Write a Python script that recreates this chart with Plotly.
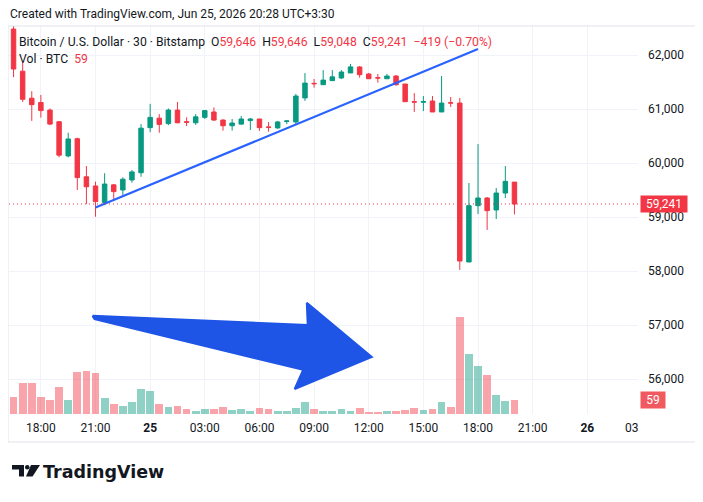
import pandas as pd
import plotly.graph_objects as go

# --- Data (BTCUSD 30m, Bitstamp) ---
START = "2026-06-24 16:30"
opens = [62480, 61700, 61200, 61120, 60980, 60765, 60130, 60450, 59745, 59575,
         59270, 59595, 59500, 59685, 59820, 60655, 60830, 60730, 60980, 60765,
         60745, 60845, 60945, 60795, 60690, 60720, 60785, 60815, 60668, 60650,
         60770, 60760, 61205, 61475, 61450, 61525, 61575, 61668, 61778, 61648,
         61580, 61560, 61610, 61463, 61135, 61125, 61148, 60945, 61116, 61110,
         58167, 59210, 59352, 59130, 59444, 59646]
highs = [62560, 61860, 61330, 61260, 61010, 60765, 60560, 60470, 59945, 59655,
         59810, 59610, 59735, 59870, 60720, 61095, 60905, 61010, 61130, 60845,
         60905, 60980, 61030, 60810, 60815, 60870, 60835, 60815, 60760, 60780,
         60795, 61280, 61665, 61555, 61720, 61720, 61720, 61835, 61795, 61668,
         61648, 61648, 61630, 61463, 61295, 61240, 61240, 61610, 61222, 61205,
         59630, 60350, 59370, 59537, 59944, 59646]
lows = [61590, 61130, 60780, 60840, 60700, 60105, 60105, 59500, 59240, 59005,
        59220, 59295, 59405, 59635, 59745, 60570, 60560, 60700, 60735, 60685,
        60705, 60815, 60780, 60600, 60600, 60705, 60610, 60595, 60580, 60630,
        60720, 60720, 61150, 61395, 61450, 61525, 61555, 61668, 61580, 61560,
        61488, 61560, 61430, 61135, 60945, 60962, 60945, 60945, 61037, 58020,
        58167, 59056, 58760, 58963, 59352, 59048]
closes = [61740, 61180, 61080, 60970, 60720, 60145, 60445, 59730, 59560, 59285,
          59610, 59470, 59700, 59835, 60645, 60845, 60715, 60980, 60745, 60755,
          60855, 60970, 60795, 60690, 60740, 60815, 60815, 60655, 60660, 60760,
          60778, 61240, 61480, 61468, 61535, 61595, 61685, 61780, 61635, 61560,
          61573, 61610, 61450, 61135, 61128, 61137, 60945, 61110, 61110, 58185,
          59210, 59352, 59117, 59444, 59660, 59241]
volumes = [71, 129, 129, 71, 59, 113, 59, 174, 178, 170,
           67, 41, 33, 49, 103, 96, 41, 29, 33, 21,
           12, 21, 21, 29, 16, 21, 12, 25, 21, 12,
           12, 25, 49, 21, 12, 12, 21, 12, 25, 8,
           8, 12, 12, 16, 25, 16, 21, 49, 29, 400,
           247, 198, 161, 78, 55, 59]

price_ticks = [56000, 57000, 58000, 59000, 60000, 61000, 62000]
time_ticks = ["2026-06-24 18:00", "2026-06-24 21:00", "2026-06-25 00:00", "2026-06-25 03:00",
              "2026-06-25 06:00", "2026-06-25 09:00", "2026-06-25 12:00", "2026-06-25 15:00",
              "2026-06-25 18:00", "2026-06-25 21:00", "2026-06-26 00:00"]
time_labels = ["18:00", "21:00", "<b>25</b>", "03:00", "06:00", "09:00", "12:00", "15:00",
               "18:00", "21:00", "<b>26</b>"]

# drawings on the chart
trend_x = ["2026-06-24 21:00", "2026-06-25 18:00"]
trend_y = [59175, 62110]
arrow_x = ["2026-06-24 20:50", "2026-06-25 08:39", "2026-06-25 08:36", "2026-06-25 12:10",
           "2026-06-25 07:56", "2026-06-25 08:24", "2026-06-24 20:57", "2026-06-24 20:50"]
arrow_y = [57170, 57000, 57410, 56410, 55815, 56170, 57110, 57170]

last_price = 59241
last_vol = 59

UP, DOWN = "#089981", "#f23645"
TXT = "#131722"
GRID = "#f0f3fa"
FONT = "Roboto"

times = pd.date_range(START, periods=len(opens), freq="30min")
vol_colors = ["rgba(8,153,129,0.45)" if c >= o else "rgba(242,54,69,0.45)"
              for o, c in zip(opens, closes)]
change = closes[-1] - closes[-2]
change_pct = change / closes[-2] * 100

# the page body has an 8px margin, so the figure is drawn 8px in and smaller
OFF = 8
W, H = 703 - OFF, 502 - OFF
L, R, T, B = 9 - OFF, 65, 26 - OFF, 88
PW, PH = W - L - R, H - T - B


# page pixel -> paper coords
def px(x):
    return (x - OFF - L) / PW


def py(y):
    return (H - B - (y - OFF)) / PH


fig = go.Figure()

fig.add_bar(x=times, y=volumes, marker=dict(color=vol_colors, line_width=0),
            width=30 * 60 * 1000 * 0.85, yaxis="y2", hoverinfo="skip")

fig.add_candlestick(x=times, open=opens, high=highs, low=lows, close=closes,
                    increasing=dict(line=dict(color=UP, width=1), fillcolor=UP),
                    decreasing=dict(line=dict(color=DOWN, width=1), fillcolor=DOWN),
                    whiskerwidth=0)

fig.add_scatter(x=trend_x, y=trend_y, mode="lines", line=dict(color="#2962ff", width=2.2),
                hoverinfo="skip")
fig.add_scatter(x=arrow_x, y=arrow_y, mode="lines", fill="toself", fillcolor="#1f55e6",
                line=dict(color="#1f55e6", width=2), hoverinfo="skip")

# --- Pane frame, price line, logo ---
shapes = [
    dict(type="rect", xref="paper", yref="paper", x0=px(8), x1=px(697), y0=py(442), y1=py(26),
         line=dict(color="#e0e3eb", width=1), layer="above"),
    dict(type="line", xref="paper", yref="y", x0=0, x1=1, y0=last_price, y1=last_price,
         line=dict(color=DOWN, width=1, dash="1px,3px")),
    # TradingView mark
    dict(type="rect", xref="paper", yref="paper", x0=px(12), x1=px(24), y0=py(469.5), y1=py(465),
         fillcolor=TXT, line_width=0),
    dict(type="rect", xref="paper", yref="paper", x0=px(19), x1=px(24), y0=py(476.5), y1=py(465),
         fillcolor=TXT, line_width=0),
    dict(type="circle", xref="paper", yref="paper", x0=px(25), x1=px(29.5), y0=py(469.5), y1=py(465),
         fillcolor=TXT, line_width=0),
    dict(type="path", xref="paper", yref="paper",
         path=f"M {px(31)},{py(465)} L {px(40)},{py(465)} L {px(32.5)},{py(476.5)} "
              f"L {px(26)},{py(476.5)} Z",
         fillcolor=TXT, line_width=0),
]

legend1 = (f"Bitcoin / U.S. Dollar · 30 · Bitstamp  "
           f"O<span style='color:{DOWN}'>{opens[-1]:,}</span>  "
           f"H<span style='color:{DOWN}'>{highs[-1]:,}</span>  "
           f"L<span style='color:{DOWN}'>{lows[-1]:,}</span>  "
           f"C<span style='color:{DOWN}'>{closes[-1]:,}</span>  "
           f"<span style='color:{DOWN}'>−{abs(change)} (−{abs(change_pct):.2f}%)</span>")
legend2 = f"Vol · BTC  <span style='color:{DOWN}'>{last_vol}</span>"

annotations = [
    dict(text="Created with TradingView.com, Jun 25, 2026 20:28 UTC+3:30", x=px(8), y=py(14),
         font=dict(size=12, color=TXT)),
    dict(text=legend1, x=px(17), y=py(42), font=dict(size=12.2, color=TXT)),
    dict(text=legend2, x=px(17), y=py(59), font=dict(size=12.2, color=TXT)),
    dict(text="<b>TradingView</b>", x=px(41), y=py(472),
         font=dict(family="DejaVu Sans", size=17.5, color=TXT)),
    dict(text="03", x=1, xanchor="right", xshift=3, y=py(428), font=dict(size=12, color=TXT)),
    dict(text=f"{last_price:,}", x=1, xshift=2, yref="y", y=last_price, bgcolor=DOWN,
         width=43, height=13, borderpad=1.5, font=dict(size=12, color="white")),
    dict(text=str(last_vol), x=1, xshift=2, yref="y2", y=last_vol, bgcolor="#f05a5f",
         width=21, height=13, borderpad=1.5, font=dict(size=12, color="white")),
]
for a in annotations:
    a.setdefault("xref", "paper")
    a.setdefault("yref", "paper")
    a.setdefault("xanchor", "left")
    a.setdefault("yanchor", "middle")
    a["showarrow"] = False

fig.update_layout(
    width=W, height=H,
    margin=dict(l=L, r=R, t=T, b=B),
    paper_bgcolor="white", plot_bgcolor="white",
    font=dict(family=FONT, size=12, color=TXT),
    showlegend=False,
    bargap=0,
    shapes=shapes,
    annotations=annotations,
    xaxis=dict(type="date", range=[times[0] - pd.Timedelta(minutes=15), "2026-06-26 02:47"],
               tickvals=time_ticks, ticktext=time_labels, showgrid=True, gridcolor=GRID,
               zeroline=False, showline=False, ticks="", rangeslider=dict(visible=False),
               ticklabelstandoff=5, tickfont=dict(size=12, color=TXT)),
    yaxis=dict(side="right", range=[55352, 62537], tickvals=price_ticks, tickformat=",",
               showgrid=True, gridcolor=GRID, zeroline=False, showline=False, ticks="",
               ticklabelstandoff=9, tickfont=dict(size=12, color=TXT)),
    yaxis2=dict(overlaying="y", range=[0, 1600], visible=False),
)

fig.write_html("out.html")
